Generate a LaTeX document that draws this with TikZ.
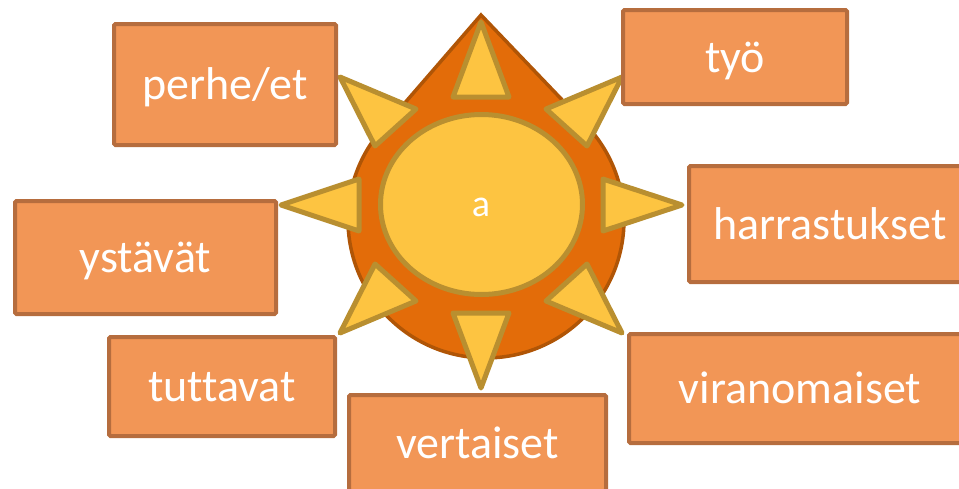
\documentclass[tikz,border=0pt]{standalone}
\usepackage{fontspec}
\setmainfont{Carlito}[Ligatures={NoCommon}]
\usetikzlibrary{shapes.geometric}
\definecolor{dropfill}{HTML}{E36C09}
\definecolor{dropline}{HTML}{B05506}
\definecolor{sunfill}{HTML}{FDC441}
\definecolor{sunline}{HTML}{B98F30}
\definecolor{boxfill}{HTML}{F29656}
\definecolor{boxline}{HTML}{B66D3E}
\begin{document}
\begin{tikzpicture}[x=1pt,y=-1pt,
  labelbox/.style={draw=boxline, fill=boxfill, line width=4pt, rounded corners=1.5pt,
    text=white, font=\fontsize{46}{46}\selectfont, text height=38pt, text depth=8pt,
    inner sep=0pt},
  ray/.style={draw=sunline, fill=sunfill, line width=5pt, line join=round}]
\useasboundingbox (0,0) rectangle (959,488);
\clip (0,0) rectangle (959,488);

% teardrop behind the sun
\draw[draw=dropline, fill=dropfill, line width=3.5pt]
  (481,15) -- (381.7,129.6) arc[start angle=220.9, end angle=-43.7, radius=138] -- cycle;

% eight rays
\draw[ray] (481,22) -- (453,97) -- (509,97) -- cycle;
\draw[ray] (481,388) -- (453,313) -- (509,313) -- cycle;
\draw[ray] (281,205) -- (359,179) -- (359,231) -- cycle;
\draw[ray] (682,205) -- (603,179) -- (603,231) -- cycle;
\draw[ray] (340,77) -- (416,109) -- (375,146) -- cycle;
\draw[ray] (622,77) -- (546,109) -- (587,146) -- cycle;
\draw[ray] (340,333) -- (416,301) -- (375,264) -- cycle;
\draw[ray] (622,333) -- (546,301) -- (587,264) -- cycle;

% sun core and its letter
\node[ray, ellipse, minimum width=202pt, minimum height=180pt, inner sep=0pt] (core) at (481.5,204.5) {};
\node[text=white, font=\fontsize{38}{38}\selectfont, inner sep=0pt] (corelabel) at (481,207) {a};

% surrounding boxes
\node[labelbox, minimum width=222pt, minimum height=121pt] (perhe) at (225,84.5) {perhe/et};
\node[labelbox, minimum width=224pt, minimum height=94pt] (tyo) at (735,57) {työ};
\node[labelbox, minimum width=282pt, minimum height=116pt] (harr) at (830,224) {harrastukset};
\node[labelbox, minimum width=261pt, minimum height=113pt] (ystavat) at (145.5,257.5) {ystävät};
\node[labelbox, minimum width=226pt, minimum height=99pt] (tuttavat) at (222,386.5) {tuttavat};
\node[labelbox, minimum width=257pt, minimum height=96pt] (vertaiset) at (477.5,443) {vertaiset};
\node[labelbox, minimum width=342pt, minimum height=109pt] (viran) at (800,388.5) {viranomaiset};
\end{tikzpicture}
\end{document}
